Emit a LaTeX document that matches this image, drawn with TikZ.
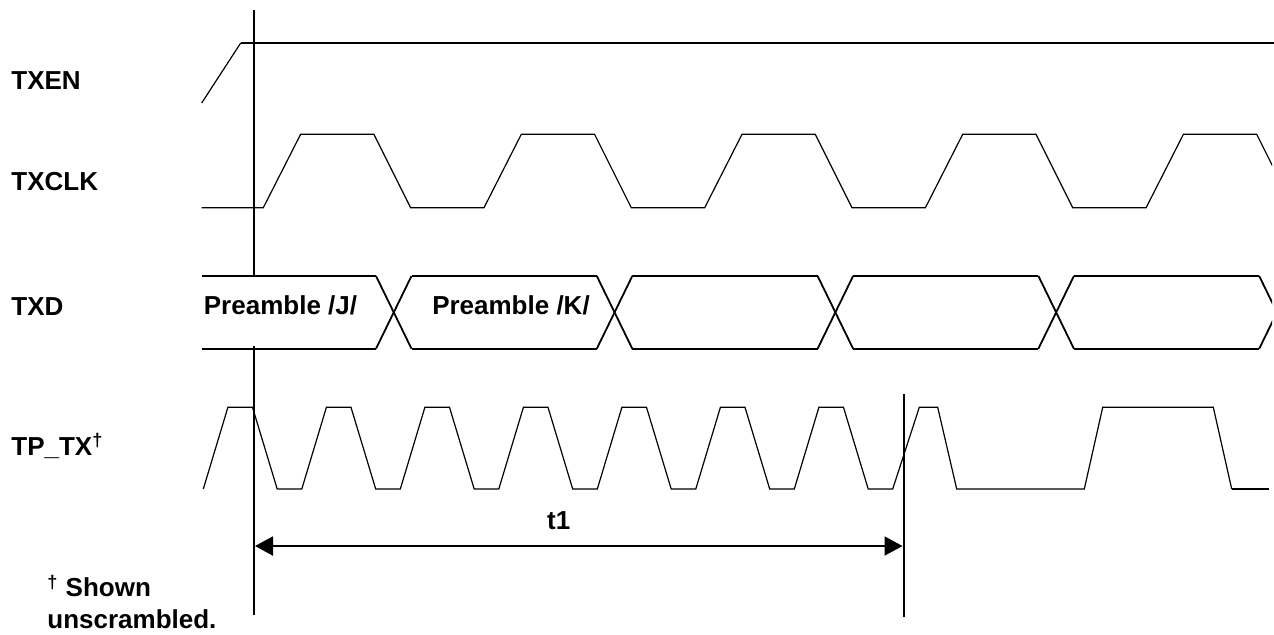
\documentclass[tikz,border=0pt]{standalone}
\usepackage{fontspec}
\setmainfont{Liberation Sans}
\usetikzlibrary{arrows.meta}

\begin{document}
\begin{tikzpicture}[x=0.5pt,y=-0.5pt,
  sig/.style={line width=0.6pt},
  bus/.style={line width=0.9pt},
  marker/.style={line width=1pt},
  lbl/.style={font=\fontsize{13}{15.7}\selectfont\bfseries,inner sep=0pt}]
\useasboundingbox (0,0) rectangle (1274,634);
% signal names
\node [lbl,anchor=base west] (txen) at (11,89.3) {TXEN};
\node [lbl,anchor=base west] (txclk) at (11,190) {TXCLK};
\node [lbl,anchor=base west] (txd) at (11,315.7) {TXD};
\node [lbl,anchor=base west] (tptx) at (11,455) {TP\_TX\textsuperscript{†}};
% TXEN
\draw [sig] (201.7,103) -- (240.7,43);
\draw [marker] (240.7,43) -- (1274,43);
\begin{scope}
\clip (0,0) rectangle (1272,634);
% TXCLK
\draw [sig] (201.7,207.7) foreach \k in {0,...,4} {
  -- ({263.3+220.7*\k},207.7) -- ++(37.3,-73.4) -- ++(73.3,0) -- ++(36.7,73.4) };
% TXD
\draw [bus] (201.7,276) -- (376,276);
\draw [bus] (201.7,348.7) -- (376,348.7);
\foreach \k in {0,...,4} {
  \draw [bus] ({376+220.8*\k},276) -- ++(35.5,72.7);
  \draw [bus] ({376+220.8*\k},348.7) -- ++(35.5,-72.7);
}
\foreach \k in {0,...,3} {
  \draw [bus] ({411.5+220.8*\k},276) -- ({596.8+220.8*\k},276);
  \draw [bus] ({411.5+220.8*\k},348.7) -- ({596.8+220.8*\k},348.7);
}
\end{scope}
\node [lbl] (prej) at (280.5,305) {Preamble /J/};
\node [lbl] (prek) at (511,305) {Preamble /K/};
% TP_TX
\draw [sig] (203.3,489) foreach \k in {0,...,6} {
  -- ({203.3+98.5*\k},489) -- ++(24.6,-81.7) -- ++(24.6,0) -- ++(24.7,81.7) }
  -- (892.7,489) -- (919.3,407.3) -- (937.7,407.3) -- (956.7,489)
  -- (1084.3,489) -- (1102.7,407.3) -- (1213.3,407.3) -- (1231.7,489);
\draw [marker] (1231.7,489) -- (1269.3,489);
% markers and t1
\coordinate (m1a) at (253.5,10);
\coordinate (m1b) at (253.5,276);
\coordinate (m1c) at (253.5,346);
\coordinate (m1d) at (253.5,615);
\coordinate (m2a) at (903.5,394);
\coordinate (m2b) at (903.5,617);
\draw [marker] (m1a) -- (m1b);
\draw [marker] (m1c) -- (m1d);
\draw [marker] (m2a) -- (m2b);
\coordinate (t1l) at (255,546);
\coordinate (t1r) at (902.5,546);
\draw [marker,{Triangle[length=9pt,width=9.5pt]}-{Triangle[length=9pt,width=9.5pt]}] (t1l) -- (t1r);
\node [lbl,anchor=base] (t1) at (558.7,529.3) {t1};
% footnote
\node [lbl,anchor=base west] (foot1) at (47,596.7) {\textsuperscript{†} Shown};
\node [lbl,anchor=base west] (foot2) at (47,628) {unscrambled.};
\end{tikzpicture}
\end{document}
